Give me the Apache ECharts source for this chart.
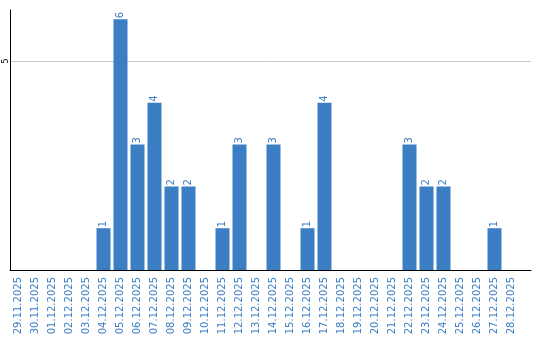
<!DOCTYPE html>
<html><head><meta charset="utf-8">
<script src="https://cdn.jsdelivr.net/npm/echarts@6/dist/echarts.min.js"></script>
<style>html,body{margin:0;padding:0;background:#fff}#c{width:540px;height:340px}</style>
</head><body><div id="c"></div>
<script>
const categories = ['29.11.2025','30.11.2025','01.12.2025','02.12.2025','03.12.2025','04.12.2025','05.12.2025','06.12.2025','07.12.2025','08.12.2025','09.12.2025','10.12.2025','11.12.2025','12.12.2025','13.12.2025','14.12.2025','15.12.2025','16.12.2025','17.12.2025','18.12.2025','19.12.2025','20.12.2025','21.12.2025','22.12.2025','23.12.2025','24.12.2025','25.12.2025','26.12.2025','27.12.2025','28.12.2025'];
const values = [0,0,0,0,0,1,6,3,4,2,2,0,1,3,0,3,0,1,4,0,0,0,0,3,2,2,0,0,1,0];
const yMax = 6.22;
const yInterval = 5;

const blue = '#3b7ec4';
const chart = echarts.init(document.getElementById('c'));
chart.setOption({
  animation: false,
  grid: [
    {left: 10, top: 10, bottom: 70, width: 510},
    {left: 10, top: 10, bottom: 70, right: 9}
  ],
  xAxis: [
    {type: 'category', gridIndex: 0, data: categories,
     axisLine: {show: false}, axisTick: {show: false},
     axisLabel: {rotate: 90, interval: 0, margin: 7, color: blue, fontFamily: 'DejaVu Sans', fontSize: 10}},
    {type: 'value', gridIndex: 1, min: 0, max: 1, show: true,
     axisLine: {show: true, lineStyle: {color: '#000', width: 1}}, axisTick: {show: false},
     axisLabel: {show: false}, splitLine: {show: false}}
  ],
  yAxis: [
    {type: 'value', gridIndex: 0, min: 0, max: yMax, interval: yInterval, show: false},
    {type: 'value', gridIndex: 1, min: 0, max: yMax, interval: yInterval,
     axisLine: {show: true, lineStyle: {color: '#000', width: 1}}, axisTick: {show: false},
     axisLabel: {rotate: 90, margin: 4, color: '#000', fontFamily: 'DejaVu Sans', fontSize: 8,
       align: 'center', verticalAlign: 'middle',
       showMaxLabel: false, showMinLabel: false},
     splitLine: {show: true, showMinLine: false, showMaxLine: false, lineStyle: {color: '#c8c8c8', width: 1}}}
  ],
  series: [{
    type: 'bar', xAxisIndex: 0, yAxisIndex: 0,
    data: values.map(v => v === 0 ? null : v),
    barWidth: 14,
    itemStyle: {color: blue},
    label: {show: true, position: 'top', rotate: 90, align: 'left', verticalAlign: 'middle', distance: 1,
      color: blue, fontFamily: 'DejaVu Sans', fontSize: 10}
  }]
});
</script></body></html>
